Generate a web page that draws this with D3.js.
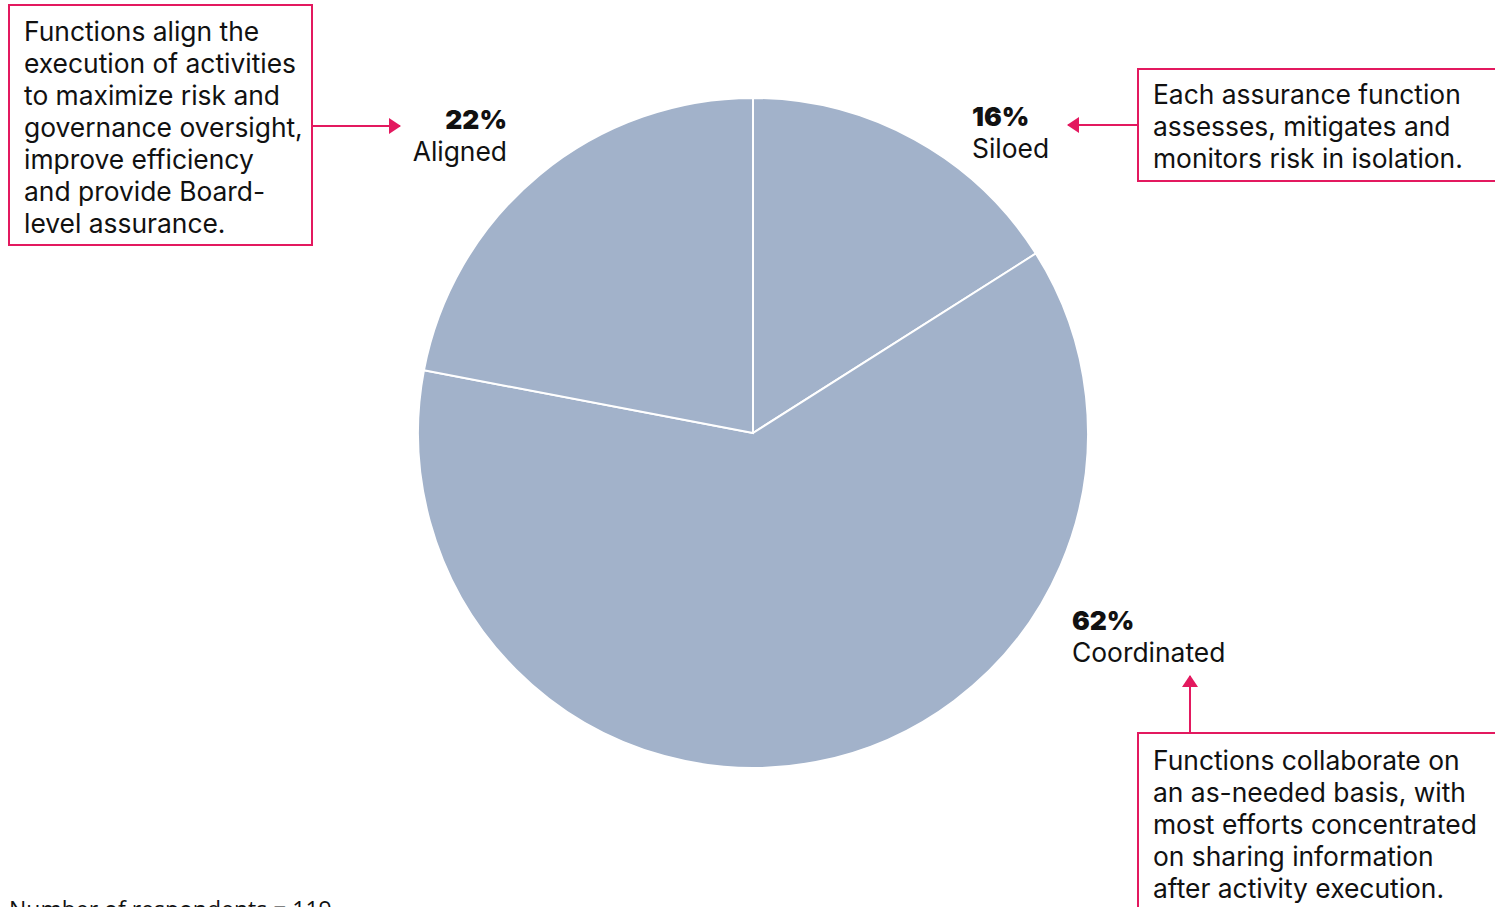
<!DOCTYPE html>
<html>
<head>
<meta charset="utf-8">
<script src="https://cdn.jsdelivr.net/npm/d3@7"></script>
<style>
  body { margin: 0; background: #fff; }
  svg { display: block; }
  text { font-family: Inter, "Noto Sans", sans-serif; fill: #111; }
</style>
</head>
<body>
<svg id="chart"></svg>
<script>
// pie data
var categories = ["Siloed", "Coordinated", "Aligned"];
var values = [16, 62, 22];
var notes = [
  ["Each assurance function", "assesses, mitigates and", "monitors risk in isolation."],
  ["Functions collaborate on", "an as-needed basis, with", "most efforts concentrated", "on sharing information", "after activity execution."],
  ["Functions align the", "execution of activities", "to maximize risk and", "governance oversight,", "improve efficiency", "and provide Board-", "level assurance."]
];
var footnote = "Number of respondents = 119";

var width = 1495;
var height = 907;
var pink = "#e3195f";
var cx = 753, cy = 433, radius = 335;
var fs = 26.4, lh = 32;

var svg = d3.select("#chart").attr("width", width).attr("height", height);

var pie = d3.pie().sort(null).value(function(d) { return d; });
var arc = d3.arc().innerRadius(0).outerRadius(radius);

var g = svg.append("g").attr("transform", "translate(" + cx + "," + cy + ")");
g.selectAll("path")
  .data(pie(values))
  .enter()
  .append("path")
  .attr("d", arc)
  .attr("fill", "#a2b2ca")
  .attr("stroke", "#fff")
  .attr("stroke-width", 2);

// arrow heads
var defs = svg.append("defs");
defs.append("marker")
  .attr("id", "head")
  .attr("viewBox", "0 0 12 16")
  .attr("refX", 11).attr("refY", 8)
  .attr("markerWidth", 12).attr("markerHeight", 16)
  .attr("markerUnits", "userSpaceOnUse")
  .attr("orient", "auto")
  .append("path").attr("d", "M0,0L12,8L0,16Z").attr("fill", pink);

// label for each slice: value bold + name
var labelPos = [
  {x: 972, y: 126, anchor: "start"},
  {x: 1072, y: 630, anchor: "start"},
  {x: 507, y: 129, anchor: "end"}
];
categories.forEach(function(c, i) {
  var p = labelPos[i];
  svg.append("text")
    .attr("x", p.x).attr("y", p.y)
    .attr("text-anchor", p.anchor)
    .style("font-size", fs + "px")
    .style("font-weight", 900)
    .text(values[i] + "%");
  svg.append("text")
    .attr("x", p.x).attr("y", p.y + lh)
    .attr("text-anchor", p.anchor)
    .style("font-size", fs + "px")
    .text(c);
});

// annotation boxes
var boxes = [
  {x: 1138, y: 69, w: 365, h: 112, tx: 1153, ty: 104},
  {x: 1138, y: 733, w: 365, h: 200, tx: 1153, ty: 770},
  {x: 9, y: 5, w: 303, h: 240, tx: 24, ty: 41}
];
boxes.forEach(function(b, i) {
  svg.append("rect")
    .attr("x", b.x).attr("y", b.y)
    .attr("width", b.w).attr("height", b.h)
    .attr("fill", "none")
    .attr("stroke", pink)
    .attr("stroke-width", 2);
  svg.append("text")
    .attr("x", b.tx).attr("y", b.ty)
    .style("font-size", fs + "px")
    .selectAll("tspan")
    .data(notes[i])
    .enter()
    .append("tspan")
    .attr("x", b.tx)
    .attr("dy", function(d, j) { return j == 0 ? 0 : lh; })
    .text(function(d) { return d; });
});

// arrows
var arrows = [
  [1138, 125, 1068, 125],
  [1190, 733, 1190, 676],
  [312, 126, 400, 126]
];
arrows.forEach(function(a) {
  svg.append("line")
    .attr("x1", a[0]).attr("y1", a[1])
    .attr("x2", a[2]).attr("y2", a[3])
    .attr("stroke", pink)
    .attr("stroke-width", 2)
    .attr("marker-end", "url(#head)");
});

svg.append("text")
  .attr("x", 9).attr("y", 918)
  .style("font-family", "'Open Sans', sans-serif")
  .style("font-size", "23px")
  .text(footnote);
</script>
</body>
</html>
